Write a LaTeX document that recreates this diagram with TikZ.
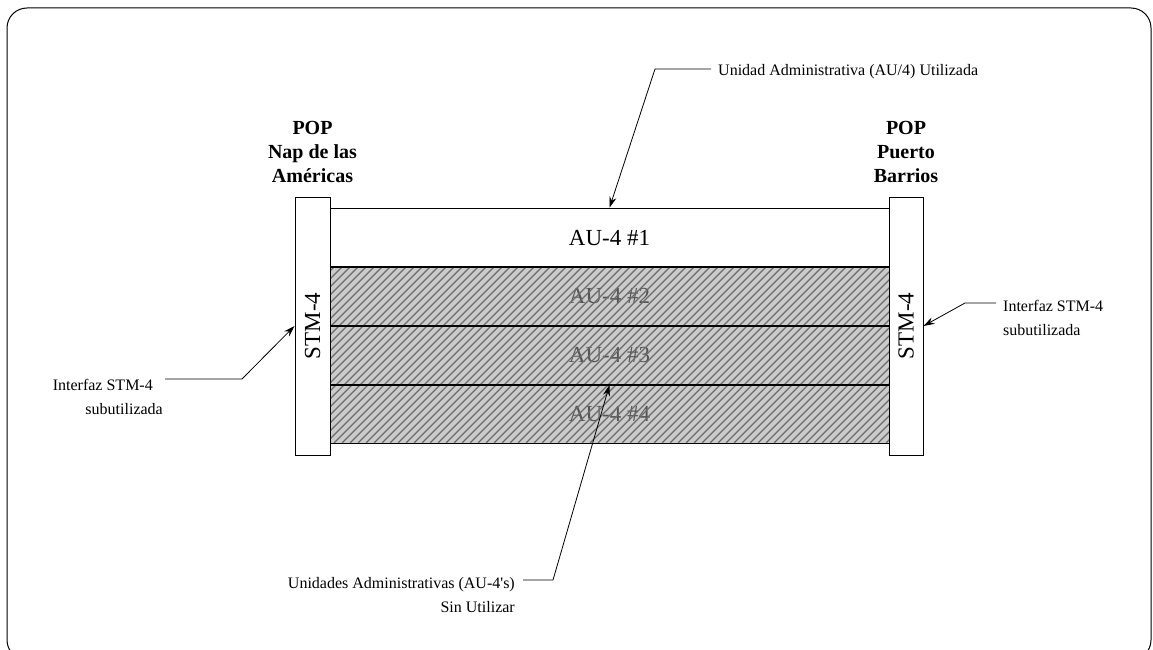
\documentclass[tikz,border=0pt]{standalone}
\usepackage{fontspec}
\setmainfont{Liberation Serif}
\usetikzlibrary{arrows.meta}
\definecolor{hatchfill}{HTML}{CBCBCB}
\definecolor{hatchline}{HTML}{6A6A6A}
\definecolor{dimtext}{HTML}{555555}
\begin{document}
\begin{tikzpicture}[x=1pt,y=-1pt,
  popbox/.style={draw, line width=1pt, fill=white, minimum width=35pt,
    minimum height=258pt, inner sep=0pt},
  rowbox/.style={draw, line width=1pt, minimum width=559pt,
    minimum height=58.75pt, inner sep=0pt},
  rowtext/.style={font=\fontsize{23}{26}\selectfont},
  stmtext/.style={font=\fontsize{23}{26}\selectfont, rotate=90},
  poptitle/.style={font=\bfseries\fontsize{20}{24}\selectfont, align=center, inner sep=0pt},
  note/.style={font=\fontsize{16}{24}\selectfont, inner sep=0pt},
  leader/.style={line width=0.8pt, -{Stealth[length=11pt,width=7pt]}},
]
\useasboundingbox (0,0) rectangle (1153,650);
\begin{scope}
  \clip (0,0) rectangle (1153,650);
  \draw[line width=1pt, rounded corners=20pt] (7,8) rectangle (1151,660);
\end{scope}

% hatched band of unused AU-4 slots
\fill[hatchfill] (330,267) rectangle (889,443);
\node[rowbox, draw=none] (row2) at (609.5,296.375) {};
\node[rowbox, draw=none] (row3) at (609.5,355.125) {};
\node[rowbox, draw=none] (row4) at (609.5,413.875) {};
\node[rowtext, text=dimtext] at (row2) {AU-4 \#2};
\node[rowtext, text=dimtext] at (row3) {AU-4 \#3};
\node[rowtext, text=dimtext] at (row4) {AU-4 \#4};
\begin{scope}
  \clip (330,267) rectangle (889,443);
  \foreach \i in {150,158,...,890}
    \draw[hatchline, line width=1.3pt] (\i,443) -- ++(176,-176);
\end{scope}

% AU-4 rows
\node[rowbox] (row1) at (609.5,237.625) {};
\node[rowtext] at (row1) {AU-4 \#1};
\draw[line width=1pt] (row2.north west) rectangle (row2.south east);
\draw[line width=1pt] (row3.north west) rectangle (row3.south east);
\draw[line width=1pt] (row4.north west) rectangle (row4.south east);

% STM-4 interfaces at both POPs
\node[popbox] (lbox) at (312.5,326) {};
\node[stmtext] at (lbox) {STM-4};
\node[popbox, minimum width=34pt] (rbox) at (906,326) {};
\node[stmtext] at (rbox) {STM-4};

\node[poptitle] (lpop) at (312.5,152) {POP\\Nap de las\\Américas};
\node[poptitle] (rpop) at (906,152) {POP\\Puerto\\Barrios};

% annotations
\node[note, anchor=west] (topnote) at (718,72) {Unidad Administrativa (AU/4) Utilizada};
\node[note, anchor=west, align=left] (rnote) at (1003,318) {Interfaz STM-4\\subutilizada};
\node[note, anchor=east, align=right] (lnote) at (163,397) {Interfaz STM-4\hspace*{10pt}\\subutilizada};
\node[note, anchor=east, align=right] (bnote) at (515,595) {Unidades Administrativas (AU-4\textquotesingle s)\\Sin Utilizar};

% leader start points and bends
\coordinate (tstart) at (711,69);
\coordinate (tbend) at (655,69);
\coordinate (lstart) at (165,379);
\coordinate (lbend) at (242,379);
\coordinate (rstart) at (996,303);
\coordinate (rbend) at (965,303);
\coordinate (bstart) at (523,580);
\coordinate (bbend) at (553,580);

\draw[leader] (tstart) -- (tbend) -- (row1.north);
\draw[leader] (lstart) -- (lbend) -- (lbox.west);
\draw[leader] (rstart) -- (rbend) -- (rbox.east);
\draw[leader] (bstart) -- (bbend) -- (row3.south);
\end{tikzpicture}
\end{document}
